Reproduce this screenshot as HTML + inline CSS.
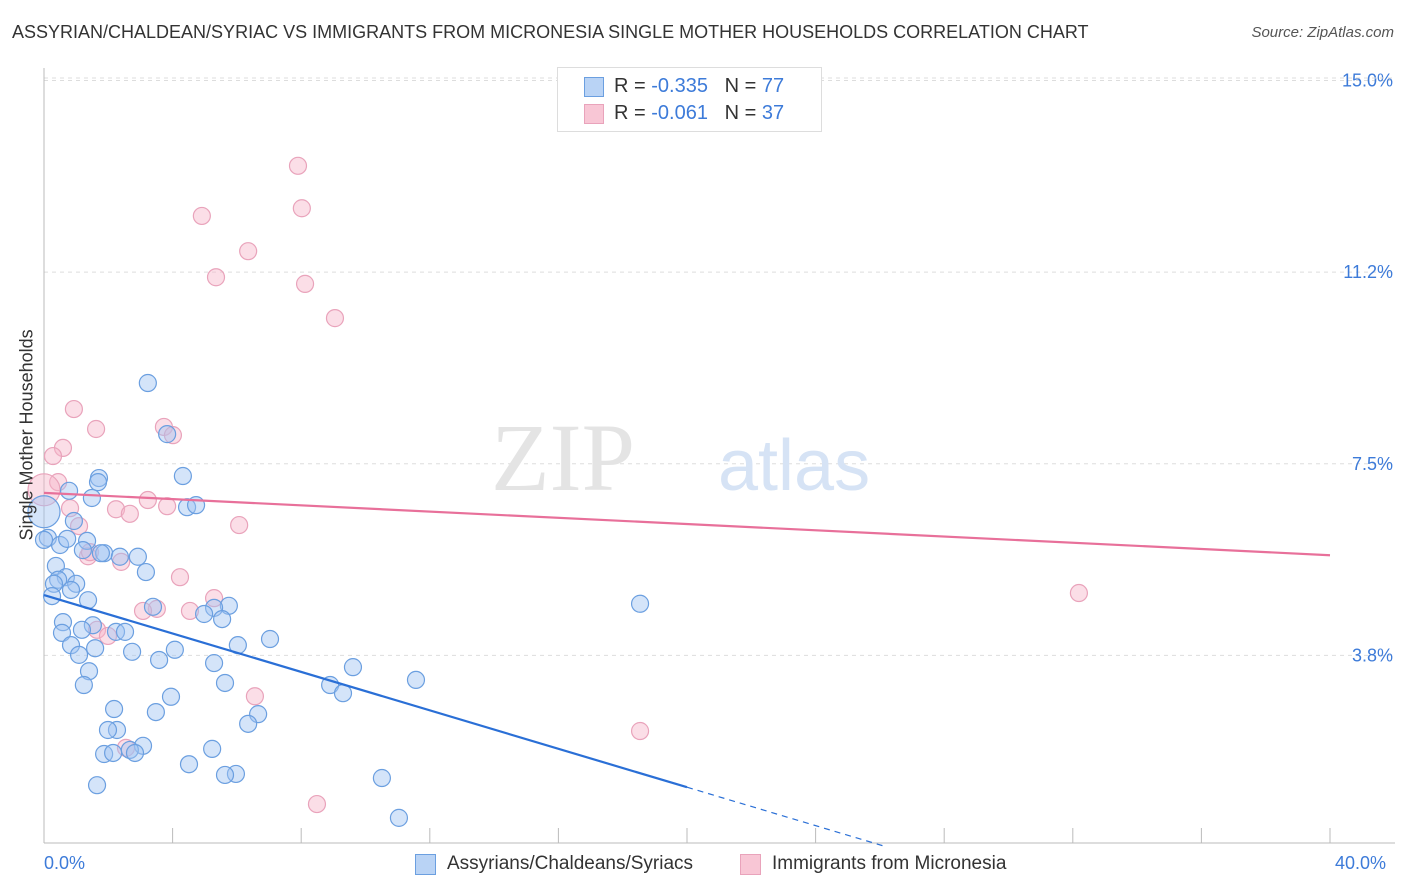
<!DOCTYPE html>
<html><head><meta charset="utf-8">
<style>
body{margin:0;background:#fff;font-family:"Liberation Sans",sans-serif;}
#wrap{position:relative;width:1406px;height:892px;overflow:hidden;}
.t{position:absolute;white-space:nowrap;}
</style></head>
<body>
<div id="wrap">
<div class="t" style="left:12px;top:22px;font-size:18px;color:#333;">ASSYRIAN/CHALDEAN/SYRIAC VS IMMIGRANTS FROM MICRONESIA SINGLE MOTHER HOUSEHOLDS CORRELATION CHART</div>
<div class="t" style="right:12px;top:24px;font-size:15px;color:#555;font-style:italic;">Source: ZipAtlas.com</div>
<svg id="svg" width="1406" height="892" style="position:absolute;left:0;top:0"></svg>
</div>
<script>
const blueX=[3.23,3.83,4.32,1.71,1.68,0.78,1.49,4.45,4.73,0,0.93,0.12,0.50,1.34,0.72,1.21,1.87,2.36,2.92,1.77,0.37,3.17,0.68,0.44,1.00,0.31,0.84,0.25,1.37,3.39,5.75,5.29,4.98,5.54,1.52,0.59,0.56,1.18,2.24,2.52,6.03,7.03,0.84,1.09,1.59,2.74,4.07,3.58,5.29,9.61,1.40,18.54,1.24,5.63,8.90,9.30,11.57,3.95,3.48,2.18,6.66,6.35,2.27,1.99,3.08,5.23,2.67,1.87,2.15,2.83,4.51,5.97,5.63,10.51,1.65,11.04,0];
const blueY=[9.08,8.08,7.26,7.22,7.14,6.97,6.83,6.65,6.69,6.56,6.38,6.05,5.91,5.99,6.03,5.81,5.75,5.68,5.68,5.75,5.50,5.38,5.28,5.23,5.15,5.15,5.03,4.91,4.83,4.70,4.72,4.68,4.56,4.46,4.34,4.40,4.19,4.25,4.21,4.21,3.95,4.07,3.95,3.76,3.89,3.82,3.86,3.66,3.60,3.52,3.44,4.76,3.17,3.21,3.17,3.01,3.27,2.94,2.64,2.70,2.60,2.41,2.29,2.29,1.98,1.92,1.90,1.82,1.84,1.84,1.62,1.43,1.41,1.35,1.21,0.57,6.01];
const pinkX=[7.90,8.02,4.91,6.35,5.35,8.12,9.05,0.93,1.62,3.73,4.01,0.59,0.28,0.44,0,0.81,3.23,3.83,2.24,2.67,1.09,6.07,1.37,2.40,1.43,4.23,5.29,3.51,3.08,4.54,1.65,1.99,6.56,2.55,18.54,8.49,32.19];
const pinkY=[13.33,12.50,12.35,11.66,11.15,11.02,10.35,8.57,8.18,8.22,8.06,7.81,7.65,7.14,6.99,6.63,6.79,6.67,6.61,6.52,6.28,6.30,5.69,5.58,5.77,5.28,4.87,4.66,4.62,4.62,4.25,4.13,2.95,1.94,2.27,0.84,4.97];
const blueTrend=[4.93,1.17];   // y at x=0 and x=20
const pinkTrend=[6.93,5.71];   // y at x=0 and x=40
const yTicks=[15.0,11.25,7.5,3.75];
const yTickLabels=["15.0%","11.2%","7.5%","3.8%"];

const NS="http://www.w3.org/2000/svg";
const svg=document.getElementById('svg');
const X0=44,X1=1330,Y0=847,PY=51.1;
const sx=v=>X0+(X1-X0)*v/40;
const sy=v=>Y0-v*PY;
function mk(tag,attrs,parent){const e=document.createElementNS(NS,tag);for(const k in attrs)e.setAttribute(k,attrs[k]);(parent||svg).appendChild(e);return e;}

// grid
yTicks.forEach((v,i)=>{
  const g=mk('line',{x1:X0,x2:1395,y1:sy(v),y2:sy(v),stroke:'#ddd','stroke-dasharray':'4,4'});
  
  
  const t=mk('text',{x:1393,y:sy(v)+6,'text-anchor':'end','font-size':18,fill:'#3d7bd9','font-family':'Liberation Sans'});
  t.textContent=yTickLabels[i];
  
  
});
mk('line',{x1:X0,x2:1395,y1:78,y2:78,stroke:'#ddd','stroke-dasharray':'4,4'});
// axes
let a=mk('line',{x1:X0,x2:X0,y1:68,y2:843,stroke:'#bbb'});


a=mk('line',{x1:X0,x2:1395,y1:843,y2:843,stroke:'#bbb'});


for(let i=0;i<=10;i++){const tk=mk('line',{x1:sx(i*4),x2:sx(i*4),y1:828,y2:843,stroke:'#bbb'});
  
  }

// watermark
let w=mk('text',{x:635,y:490,'text-anchor':'end','font-size':96,fill:'#e4e4e4','font-family':'Liberation Serif'});w.textContent='ZIP';


w=mk('text',{x:718,y:490,'font-size':72,fill:'#d6e3f5','font-family':'Liberation Sans'});w.textContent='atlas';



function pts(xs,ys,fill,stroke,name){
  xs.forEach((x,i)=>{
    const big=(x===0&&(ys[i]>6.5&&ys[i]<7.1));
    const c=mk('circle',{cx:sx(x),cy:sy(ys[i]),r:big?16:8.5,fill:fill,stroke:stroke,'stroke-width':1.2});
    
    
  });
}
pts(pinkX,pinkY,'rgba(246,182,202,0.45)','#e9a3bb','micronesia-point');
pts(blueX,blueY,'rgba(160,196,242,0.45)','#6b9fe0','assyrian-point');

// trends
const bs=(blueTrend[1]-blueTrend[0])/20;
let l=mk('line',{x1:sx(0),y1:sy(blueTrend[0]),x2:sx(20),y2:sy(blueTrend[1]),stroke:'#2a6fd6','stroke-width':2.2});


const xe=-blueTrend[0]/bs;
l=mk('line',{x1:sx(20),y1:sy(blueTrend[1]),x2:sx(xe),y2:sy(0),stroke:'#2a6fd6','stroke-width':1.2,'stroke-dasharray':'6,5'});


l=mk('line',{x1:sx(0),y1:sy(pinkTrend[0]),x2:sx(40),y2:sy(pinkTrend[1]),stroke:'#e8709a','stroke-width':2.2});


</script>
<div class="t" style="left:-58px;top:445px;transform:rotate(-90deg);font-size:18px;color:#333;width:170px;text-align:center;">Single Mother Households</div>
<div class="t" style="left:44px;top:853px;font-size:18px;color:#3d7bd9;">0.0%</div>
<div class="t" style="left:1335px;top:853px;font-size:18px;color:#3d7bd9;">40.0%</div>
<div style="position:absolute;left:557px;top:67px;width:263px;height:63px;border:1px solid #ddd;background:#fff;font-size:20px;color:#333;">
 <div style="position:absolute;left:26px;top:9px;width:18px;height:18px;background:#b9d3f5;border:1px solid #6b9fe0;"></div>
 <div class="t" style="left:56px;top:7px;">R = <span style="color:#3d7bd9">-0.335</span>&nbsp;&nbsp;&nbsp;N = <span style="color:#3d7bd9">77</span></div>
 <div style="position:absolute;left:26px;top:36px;width:18px;height:18px;background:#f8c6d5;border:1px solid #e9a3bb;"></div>
 <div class="t" style="left:56px;top:34px;">R = <span style="color:#3d7bd9">-0.061</span>&nbsp;&nbsp;&nbsp;N = <span style="color:#3d7bd9">37</span></div>
</div>
<div style="position:absolute;left:415px;top:853px;font-size:19px;color:#333;">
 <div style="position:absolute;left:0;top:1px;width:19px;height:19px;background:#b9d3f5;border:1px solid #6b9fe0;"></div>
 <div class="t" style="left:32px;top:0;">Assyrians/Chaldeans/Syriacs</div></div>
<div style="position:absolute;left:740px;top:853px;font-size:19px;color:#333;">
 <div style="position:absolute;left:0;top:1px;width:19px;height:19px;background:#f8c6d5;border:1px solid #e9a3bb;"></div>
 <div class="t" style="left:32px;top:0;">Immigrants from Micronesia</div></div>
</body></html>
